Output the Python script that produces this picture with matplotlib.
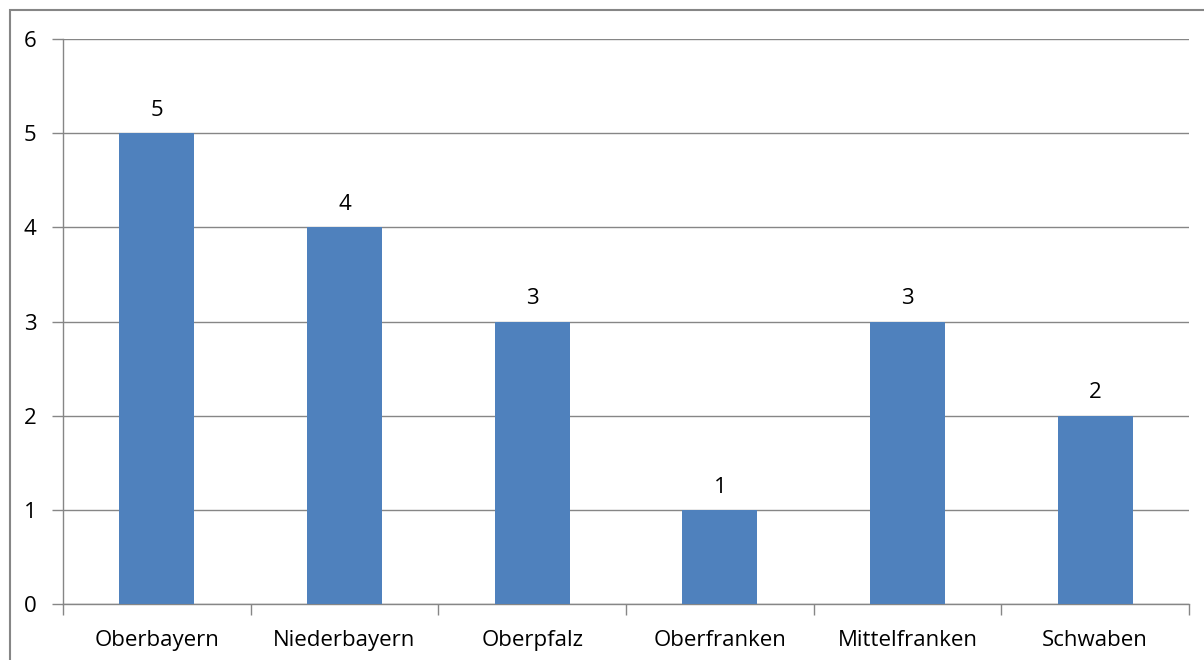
import matplotlib
matplotlib.use("Agg")
import matplotlib.pyplot as plt
from matplotlib.patches import Rectangle

categories = ["Oberbayern", "Niederbayern", "Oberpfalz", "Oberfranken", "Mittelfranken", "Schwaben"]
values = [5, 4, 3, 1, 3, 2]
yticks = [0, 1, 2, 3, 4, 5, 6]

plt.rcParams['font.family'] = ['Open Sans', 'DejaVu Sans']
W, H = 1204, 660
fs = 16
fig = plt.figure(figsize=(W/100, H/100), dpi=100)
fig.patches.append(Rectangle((10/W, -0.1), (W+20)/W, (H-10)/H + 0.1, transform=fig.transFigure,
                             fill=False, edgecolor='#868686', linewidth=1.5))
ax = fig.add_axes([63/W, (H-604)/H, (1189-63)/W, (604-39)/H])
x = list(range(len(categories)))
ax.bar(x, values, width=0.4, color='#4F81BD', zorder=3)
for xi, v in zip(x, values):
    ax.text(xi, v + 0.13, str(v), ha='center', va='bottom', fontsize=fs, color='black')
ax.set_xlim(-0.5, len(categories) - 0.5)
ax.set_ylim(0, 6)
ax.set_yticks(yticks)
ax.set_xticks(x)
ax.set_xticklabels(categories, fontsize=fs)
ax.tick_params(axis='y', labelsize=fs, length=8, color='#868686', width=1, pad=11)
ax.tick_params(axis='x', length=0, pad=19)
ax.set_xticks([i - 0.5 for i in range(len(categories) + 1)], minor=True)
ax.tick_params(axis='x', which='minor', length=8, color='#868686', width=1)
ax.grid(axis='y', color='#868686', linewidth=1, zorder=0)
for s in ['top', 'right']:
    ax.spines[s].set_visible(False)
for s in ['left', 'bottom']:
    ax.spines[s].set_color('#868686')
    ax.spines[s].set_linewidth(1)
fig.savefig('out.png', dpi=100)
